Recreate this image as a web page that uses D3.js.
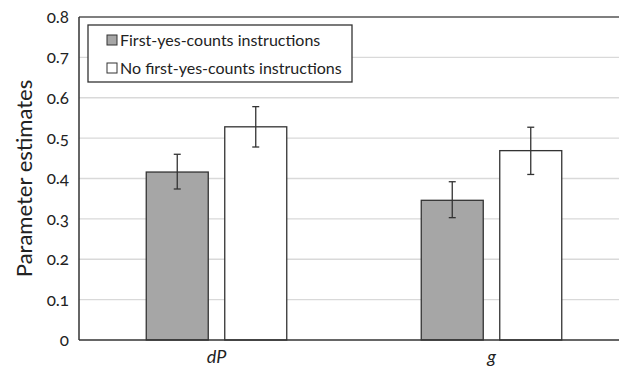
<!DOCTYPE html>
<html>
<head>
<meta charset="utf-8">
<script src="https://cdn.jsdelivr.net/npm/d3@7"></script>
<style>
  body { margin: 0; background: #fff; }
  text { font-family: Lato, "Open Sans", sans-serif; font-variant-numeric: oldstyle-nums; fill: #222; }
</style>
</head>
<body>
<div id="chart"></div>
<script>
const categories = ["dP", "g"];
const seriesNames = ["First-yes-counts instructions", "No first-yes-counts instructions"];
const firstYes = [0.416, 0.346];
const firstYesLo = [0.374, 0.303];
const firstYesHi = [0.460, 0.392];
const noFirstYes = [0.528, 0.469];
const noFirstYesLo = [0.478, 0.410];
const noFirstYesHi = [0.578, 0.527];
const yTicks = [0, 0.1, 0.2, 0.3, 0.4, 0.5, 0.6, 0.7, 0.8];

const colors = ["#a6a6a6", "#ffffff"];

const margin = { top: 17, right: -10, bottom: 27, left: 79 };
const width = 619 - margin.left - margin.right;
const height = 367 - margin.top - margin.bottom;

const svg = d3.select("#chart")
  .append("svg")
  .attr("width", 619)
  .attr("height", 367)
  .append("g")
  .attr("transform", `translate(${margin.left},${margin.top})`);

const x = d3.scaleBand().domain(categories).range([0, width]);
const y = d3.scaleLinear().domain([0, 0.8]).range([height, 0]);

const barW = 62, gap = 16.5;

// gridlines
svg.selectAll(".grid")
  .data(yTicks.slice(1, -1))
  .enter()
  .append("line")
  .attr("x1", 0).attr("x2", width)
  .attr("y1", d => y(d)).attr("y2", d => y(d))
  .style("stroke", "#d9d9d9")
  .style("stroke-width", 1.3);

// y tick labels
svg.selectAll(".ytick")
  .data(yTicks)
  .enter()
  .append("text")
  .attr("x", -10)
  .attr("y", d => y(d))
  .attr("dy", "0.35em")
  .attr("text-anchor", "end")
  .style("font-size", "17px")
  .text(d => d === 0 ? "0" : d3.format(".1f")(d));

const rows = [
  { vals: firstYes, lo: firstYesLo, hi: firstYesHi, off: -gap / 2 - barW },
  { vals: noFirstYes, lo: noFirstYesLo, hi: noFirstYesHi, off: gap / 2 }
];

rows.forEach((s, si) => {
  const cx = c => x(c) + x.bandwidth() / 2 + s.off;
  svg.selectAll(".bar" + si)
    .data(categories)
    .enter()
    .append("rect")
    .attr("x", d => cx(d))
    .attr("y", (d, i) => y(s.vals[i]))
    .attr("width", barW)
    .attr("height", (d, i) => height - y(s.vals[i]))
    .style("fill", colors[si])
    .style("stroke", "#333")
    .style("stroke-width", 1.3);

  categories.forEach((c, i) => {
    const mx = cx(c) + barW / 2;
    const g = svg.append("g").style("stroke", "#333").style("stroke-width", 1.3);
    g.append("line").attr("x1", mx).attr("x2", mx).attr("y1", y(s.hi[i])).attr("y2", y(s.lo[i]));
    g.append("line").attr("x1", mx - 3.5).attr("x2", mx + 3.5).attr("y1", y(s.hi[i])).attr("y2", y(s.hi[i]));
    g.append("line").attr("x1", mx - 3.5).attr("x2", mx + 3.5).attr("y1", y(s.lo[i])).attr("y2", y(s.lo[i]));
  });
});

// axes frame
svg.append("line").attr("x1", 0).attr("x2", width).attr("y1", height).attr("y2", height)
  .style("stroke", "#333").style("stroke-width", 1.5);
svg.append("line").attr("x1", 0).attr("x2", width).attr("y1", 0).attr("y2", 0)
  .style("stroke", "#555").style("stroke-width", 1.5);
svg.append("line").attr("x1", 0).attr("x2", 0).attr("y1", 0).attr("y2", height)
  .style("stroke", "#333").style("stroke-width", 1.5);

// x labels
svg.selectAll(".xlab")
  .data(categories)
  .enter()
  .append("text")
  .attr("x", d => x(d) + x.bandwidth() / 2)
  .attr("y", height + 23)
  .attr("text-anchor", "middle")
  .style("font-size", "18px")
  .style("font-style", "italic")
  .text(d => d);

// y title
svg.append("text")
  .attr("transform", `translate(${24 - margin.left},${height / 2}) rotate(-90)`)
  .attr("text-anchor", "middle")
  .attr("dy", "0.35em")
  .style("font-size", "22px")
  .text("Parameter estimates");

// legend
const lg = svg.append("g").attr("transform", `translate(${88 - margin.left},${25 - margin.top})`);
lg.append("rect")
  .attr("width", 264).attr("height", 57)
  .style("fill", "#fff").style("stroke", "#333").style("stroke-width", 1.3);
seriesNames.forEach((n, i) => {
  const yy = 15 + i * 28;
  lg.append("rect")
    .attr("x", 19).attr("y", yy - 5).attr("width", 10).attr("height", 10)
    .style("fill", colors[i]).style("stroke", "#333").style("stroke-width", 1);
  lg.append("text")
    .attr("x", 32).attr("y", yy).attr("dy", "0.35em")
    .style("font-size", "16px")
    .text(n);
});
</script>
</body>
</html>
